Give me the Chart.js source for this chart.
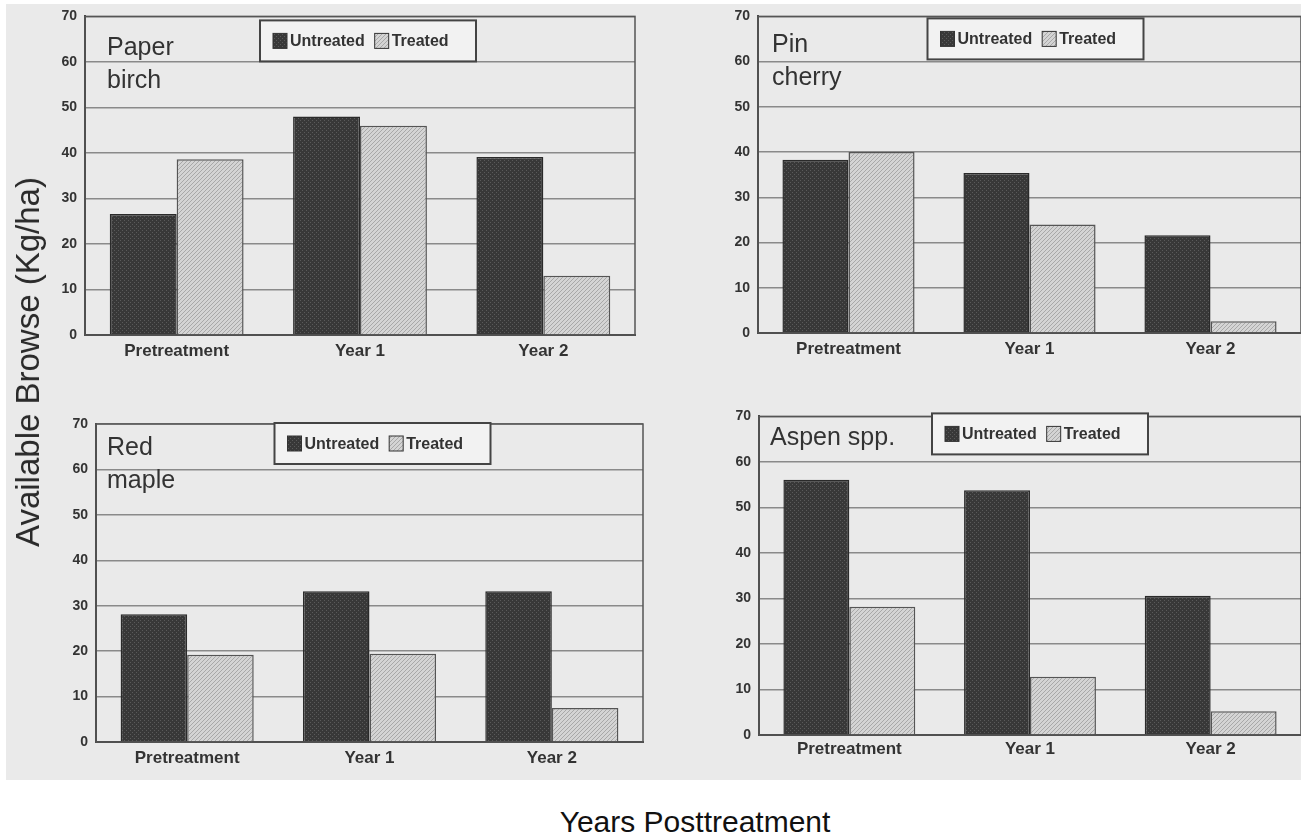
<!DOCTYPE html>
<html>
<head>
<meta charset="utf-8">
<script src="https://cdn.jsdelivr.net/npm/chart.js@4.4.1/dist/chart.umd.min.js"></script>
<style>
  html, body { margin: 0; padding: 0; background: #fff; }
  body { width: 1301px; height: 838px; position: relative; overflow: hidden; font-family: "Liberation Sans", Arial, sans-serif; }
  #scan { position: absolute; left: 6px; top: 4px; width: 1295px; height: 776px; background: #eaeaea; }
  canvas { position: absolute; }
  #ytitle { position: absolute; left: 28px; top: 362px; transform: translate(-50%, -50%) rotate(-90deg); font-size: 33px; color: #2a2a2a; white-space: nowrap; }
  #xtitle { position: absolute; left: 695px; top: 822px; transform: translate(-50%, -50%); font-size: 30px; color: #111; white-space: nowrap; }
</style>
</head>
<body>
<div id="scan"></div>
<canvas id="birch" width="640" height="370" style="left:0px;top:0px"></canvas>
<canvas id="cherry" width="621" height="370" style="left:680px;top:0px"></canvas>
<canvas id="maple" width="650" height="375" style="left:0px;top:400px"></canvas>
<canvas id="aspen" width="621" height="375" style="left:680px;top:400px"></canvas>
<div id="ytitle">Available Browse (Kg/ha)</div>
<div id="xtitle">Years Posttreatment</div>
<script>
const categories = ["Pretreatment", "Year 1", "Year 2"];
const seriesNames = ["Untreated", "Treated"];
const yTicks = [0, 10, 20, 30, 40, 50, 60, 70];

const birchTitle = ["Paper", "birch"];
const birchUntreated = [26.6, 48.0, 39.1];
const birchTreated = [38.6, 46.0, 13.0];

const cherryTitle = ["Pin", "cherry"];
const cherryUntreated = [38.3, 35.4, 21.6];
const cherryTreated = [40.0, 24.0, 2.6];

const mapleTitle = ["Red", "maple"];
const mapleUntreated = [28.1, 33.2, 33.2];
const mapleTreated = [19.2, 19.4, 7.5];

const aspenTitle = ["Aspen spp."];
const aspenUntreated = [56.1, 53.8, 30.6];
const aspenTreated = [28.2, 12.8, 5.2];

const FONT = '"Liberation Sans", Arial, sans-serif';

// little tiles so the bars look like the old screen-tone fills
function makePattern(bg, fg, kind) {
  const c = document.createElement("canvas");
  c.width = 4; c.height = 4;
  const g = c.getContext("2d");
  g.fillStyle = bg;
  g.fillRect(0, 0, 4, 4);
  g.fillStyle = fg;
  if (kind === "dots") {
    g.fillRect(0, 0, 1, 1);
    g.fillRect(2, 2, 1, 1);
  } else {
    for (let i = 0; i < 4; i++) g.fillRect(i, 3 - i, 1, 1);
  }
  return g.createPattern(c, "repeat");
}
const darkFill = makePattern("#383838", "#5a5a5a", "dots");
const lightFill = makePattern("#d4d4d4", "#a8a8a8", "hatch");

const panelDecor = {
  id: "panelDecor",
  beforeDatasetsDraw(chart) {
    const { ctx, chartArea: a } = chart;
    ctx.save();
    ctx.strokeStyle = "#555";
    ctx.lineWidth = 1.5;
    ctx.strokeRect(a.left, a.top, a.right - a.left, a.bottom - a.top);
    ctx.restore();
  },
  afterDraw(chart, args, opts) {
    const { ctx, chartArea: a } = chart;
    ctx.save();
    // species name in the corner
    ctx.font = "25px " + FONT;
    ctx.fillStyle = "#333";
    ctx.textBaseline = "alphabetic";
    opts.title.forEach((line, i) => {
      ctx.fillText(line, a.left + opts.titleDx, a.top + opts.titleDy + i * 33);
    });

    // boxed legend sitting inside the plot
    const bw = 216, bh = 41;
    const bx = (a.left + a.right) / 2 - bw / 2 + opts.legendDx;
    const by = a.top + opts.legendDy;
    ctx.fillStyle = "#f2f2f2";
    ctx.fillRect(bx, by, bw, bh);
    ctx.strokeStyle = "#444";
    ctx.lineWidth = 2;
    ctx.strokeRect(bx, by, bw, bh);
    ctx.font = "bold 16px " + FONT;
    ctx.textBaseline = "middle";
    let x = bx + 13;
    chart.data.datasets.forEach(ds => {
      ctx.fillStyle = ds.backgroundColor;
      ctx.fillRect(x, by + 13, 14, 15);
      ctx.strokeStyle = "#333";
      ctx.lineWidth = 1;
      ctx.strokeRect(x, by + 13, 14, 15);
      x += 17;
      ctx.fillStyle = "#333";
      ctx.fillText(ds.label, x, by + bh / 2 + 1);
      x += ctx.measureText(ds.label).width + 10;
    });
    ctx.restore();
  }
};

function buildPanel(id, untreated, treated, cfg) {
  return new Chart(document.getElementById(id), {
    type: "bar",
    data: {
      labels: categories,
      datasets: [
        { label: seriesNames[0], data: untreated, backgroundColor: darkFill, borderColor: "#2a2a2a", borderWidth: 1.5 },
        { label: seriesNames[1], data: treated, backgroundColor: lightFill, borderColor: "#555", borderWidth: 1.5 }
      ]
    },
    plugins: [panelDecor],
    options: {
      responsive: false,
      animation: false,
      layout: { padding: cfg.padding },
      datasets: { bar: { categoryPercentage: 0.73, barPercentage: 1.0 } },
      plugins: {
        legend: { display: false },
        tooltip: { enabled: false },
        panelDecor: cfg.decor
      },
      scales: {
        x: {
          grid: { display: false, drawTicks: false },
          border: { color: "#444", width: 2 },
          ticks: { color: "#333", padding: cfg.xPad, font: { family: FONT, size: 17, weight: "bold" } },
          afterFit(s) { s.height = cfg.xh; }
        },
        y: {
          min: 0,
          max: 70,
          afterBuildTicks(s) { s.ticks = yTicks.map(v => ({ value: v })); },
          grid: { color: "#8a8a8a", lineWidth: 1.5, drawTicks: false },
          border: { color: "#444", width: 2 },
          ticks: { color: "#333", padding: 8, font: { family: FONT, size: 14, weight: "bold" } },
          afterFit(s) { s.width = cfg.yw; }
        }
      }
    }
  });
}

buildPanel("birch", birchUntreated, birchTreated, {
  padding: { top: 13, right: 5, left: 0, bottom: 0 }, yw: 85, xh: 35, xPad: 6,
  decor: { title: birchTitle, titleDx: 22, titleDy: 39, legendDx: 8, legendDy: 4 }
});
buildPanel("cherry", cherryUntreated, cherryTreated, {
  padding: { top: 13, right: 0, left: 0, bottom: 0 }, yw: 78, xh: 37, xPad: 6,
  decor: { title: cherryTitle, titleDx: 14, titleDy: 36, legendDx: 6, legendDy: 2 }
});
buildPanel("maple", mapleUntreated, mapleTreated, {
  padding: { top: 24, right: 7, left: 0, bottom: 0 }, yw: 96, xh: 33, xPad: 6,
  decor: { title: mapleTitle, titleDx: 11, titleDy: 31, legendDx: 13, legendDy: -1 }
});
buildPanel("aspen", aspenUntreated, aspenTreated, {
  padding: { top: 16, right: 0, left: 0, bottom: 0 }, yw: 79, xh: 40, xPad: 4,
  decor: { title: aspenTitle, titleDx: 11, titleDy: 29, legendDx: 10, legendDy: -3 }
});
</script>
</body>
</html>
